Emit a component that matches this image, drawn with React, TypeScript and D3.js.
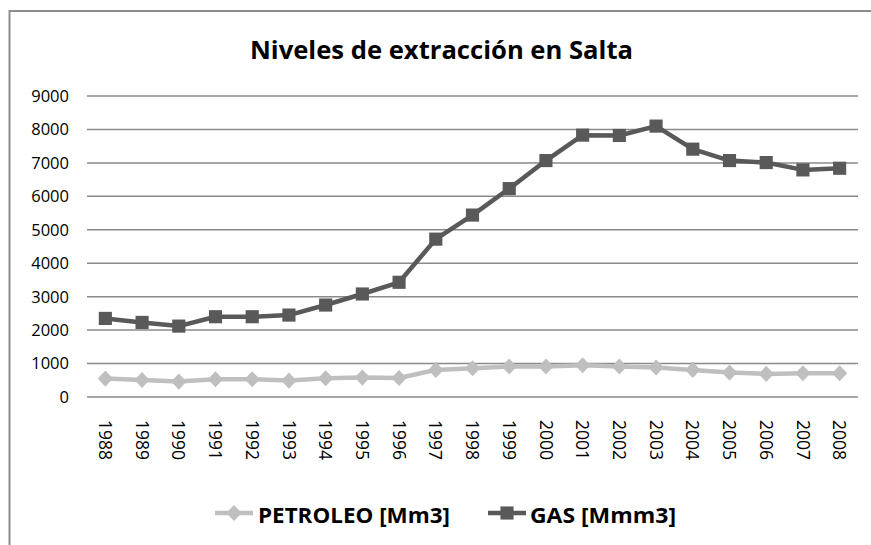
import React, { useRef, useEffect } from 'react';
import * as d3 from 'd3';

// Years on the category axis
const years = ['1988', '1989', '1990', '1991', '1992', '1993', '1994', '1995', '1996', '1997', '1998',
  '1999', '2000', '2001', '2002', '2003', '2004', '2005', '2006', '2007', '2008'];

// PETROLEO [Mm3]
const petroleo = [550, 510, 460, 530, 530, 490, 560, 580, 570, 810, 860, 910, 910, 950, 910, 880, 810, 730, 690, 710, 710];

// GAS [Mmm3]
const gas = [2350, 2230, 2120, 2400, 2400, 2450, 2750, 3080, 3430, 4720, 5440, 6230, 7070, 7830, 7820, 8100, 7410, 7070, 7010, 6790, 6840];

const yTicks = [0, 1000, 2000, 3000, 4000, 5000, 6000, 7000, 8000, 9000];

const title = 'Niveles de extracción en Salta';
const seriesNames = ['PETROLEO [Mm3]', 'GAS [Mmm3]'];

export default function App() {
  const svgRef = useRef<SVGSVGElement>(null);

  useEffect(() => {
    const width = 871;
    const height = 545;
    const marginLeft = 87;
    const marginRight = 13;
    const top = 96;
    const bottom = 397;
    const fontFamily = "'Open Sans', 'Liberation Sans', sans-serif";
    const gasColor = '#595959';
    const petColor = '#bfbfbf';

    const svg = d3.select(svgRef.current);
    svg.selectAll('*').remove();
    svg.attr('width', width).attr('height', height).attr('viewBox', [0, 0, width, height]);

    svg.append('rect').attr('width', width).attr('height', height).attr('fill', '#fff');

    // chart frame, only top and left edges are inside the picture
    svg.append('path')
      .attr('d', `M${width},11 H9.5 V${height}`)
      .attr('fill', 'none')
      .attr('stroke', '#8c8c8c')
      .attr('stroke-width', 2);

    const xScale = d3.scaleBand().domain(years).range([marginLeft, width - marginRight]);
    const yScale = d3.scaleLinear().domain([0, 9000]).range([bottom, top]);
    const cx = (d: string) => (xScale(d) as number) + xScale.bandwidth() / 2;

    // gridlines
    svg.append('g')
      .selectAll('line')
      .data(yTicks)
      .join('line')
      .attr('x1', marginLeft).attr('x2', width - marginRight)
      .attr('y1', d => yScale(d)).attr('y2', d => yScale(d))
      .attr('stroke', '#8a8a8a')
      .attr('stroke-width', 1.5);

    // y labels
    svg.append('g')
      .attr('font-family', fontFamily)
      .attr('font-size', 16.5)
      .attr('fill', '#000')
      .attr('text-anchor', 'end')
      .selectAll('text')
      .data(yTicks)
      .join('text')
      .attr('x', 69)
      .attr('y', d => yScale(d))
      .attr('dy', '0.36em')
      .text(d => d);

    // x labels, rotated clockwise
    svg.append('g')
      .attr('font-family', fontFamily)
      .attr('font-size', 17.5)
      .attr('fill', '#000')
      .selectAll('text')
      .data(years)
      .join('text')
      .attr('transform', d => `translate(${cx(d)},420) rotate(90)`)
      .attr('dy', '0.36em')
      .text(d => d);

    const line = d3.line<number>()
      .x((_, i) => cx(years[i]))
      .y(d => yScale(d));

    const diamond = d3.symbol().type(d3.symbolDiamond2).size(150);
    const square = d3.symbol().type(d3.symbolSquare2).size(220);

    // petroleo
    svg.append('path')
      .datum(petroleo)
      .attr('d', line)
      .attr('fill', 'none')
      .attr('stroke', petColor)
      .attr('stroke-width', 4.5)
      .attr('stroke-linejoin', 'round');
    svg.append('g')
      .selectAll('path')
      .data(petroleo)
      .join('path')
      .attr('transform', (d, i) => `translate(${cx(years[i])},${yScale(d)}) scale(1,1.05)`)
      .attr('d', diamond)
      .attr('fill', petColor);

    // gas
    svg.append('path')
      .datum(gas)
      .attr('d', line)
      .attr('fill', 'none')
      .attr('stroke', gasColor)
      .attr('stroke-width', 4.5)
      .attr('stroke-linejoin', 'round');
    svg.append('g')
      .selectAll('path')
      .data(gas)
      .join('path')
      .attr('transform', (d, i) => `translate(${cx(years[i])},${yScale(d)})`)
      .attr('d', square)
      .attr('fill', gasColor);

    // title
    svg.append('text')
      .attr('x', 441.5)
      .attr('y', 59)
      .attr('text-anchor', 'middle')
      .attr('font-family', fontFamily)
      .attr('font-weight', 'bold')
      .attr('font-size', 25)
      .attr('textLength', 383)
      .attr('lengthAdjust', 'spacingAndGlyphs')
      .text(title);

    // legend
    const legend = [
      { name: seriesNames[0], color: petColor, sym: diamond, x0: 215, tx: 258, tw: 192 },
      { name: seriesNames[1], color: gasColor, sym: square, x0: 488, tx: 530, tw: 146 },
    ];
    const ly = 513;
    const lg = svg.append('g');
    legend.forEach((l, k) => {
      lg.append('line')
        .attr('x1', l.x0).attr('x2', l.x0 + 38)
        .attr('y1', ly).attr('y2', ly)
        .attr('stroke', l.color)
        .attr('stroke-width', 4.5);
      lg.append('path')
        .attr('transform', `translate(${l.x0 + 19},${ly})${k === 0 ? ' scale(1,1.05)' : ''}`)
        .attr('d', l.sym)
        .attr('fill', l.color);
      lg.append('text')
        .attr('x', l.tx)
        .attr('y', 523)
        .attr('font-family', fontFamily)
        .attr('font-weight', 'bold')
        .attr('font-size', 21)
        .attr('textLength', l.tw)
        .attr('lengthAdjust', 'spacingAndGlyphs')
        .text(l.name);
    });
  }, []);

  return (
    <div style={{ position: 'absolute', left: 0, top: 0 }}>
      <svg ref={svgRef} style={{ display: 'block' }}></svg>
    </div>
  );
}
